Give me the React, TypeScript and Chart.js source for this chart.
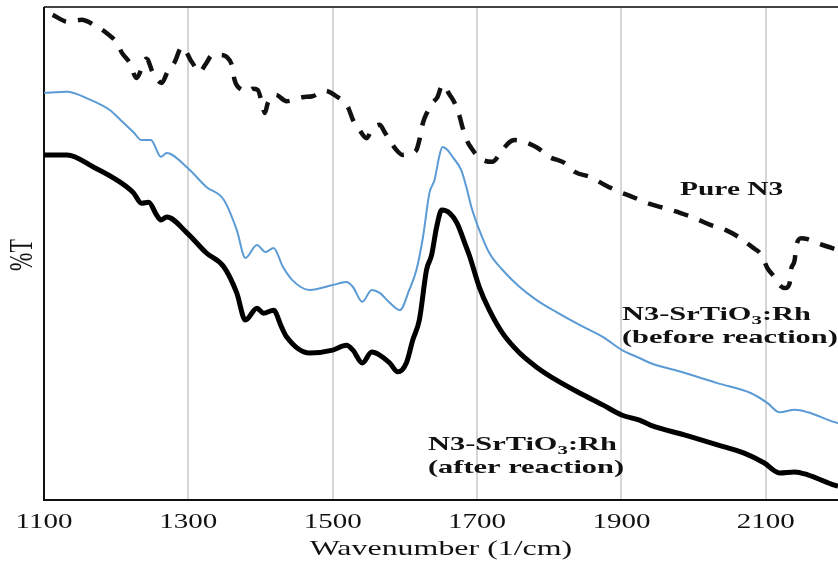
import React, { useEffect, useRef } from "react";
import { Chart, registerables } from "chart.js";

Chart.register(...registerables);

// ---- data (wavenumber in 1/cm, transmittance in arbitrary %T units) ----
const xTicks = [1100, 1300, 1500, 1700, 1900, 2100];
const xTitle = "Wavenumber (1/cm)";
const yTitle = "%T";

const pureWn = [1112, 1133, 1152, 1170, 1187, 1201, 1208, 1219, 1228, 1242, 1251, 1263, 1271, 1281, 1291, 1305, 1316, 1323, 1334, 1343, 1353, 1361, 1364, 1374, 1382, 1389, 1396, 1402, 1406, 1410, 1421, 1436, 1458, 1472, 1489, 1505, 1521, 1528, 1537, 1547, 1554, 1565, 1572, 1579, 1586, 1597, 1609, 1616, 1620, 1625, 1631, 1638, 1645, 1652, 1662, 1669, 1676, 1680, 1687, 1692, 1703, 1721, 1735, 1745, 1752, 1766, 1784, 1800, 1821, 1836, 1857, 1877, 1897, 1915, 1936, 1960, 1982, 2001, 2023, 2044, 2065, 2081, 2094, 2102, 2112, 2119, 2127, 2133, 2135, 2140, 2142, 2149, 2158, 2171, 2192, 2200];
const pureT = [98.4, 97.0, 97.4, 96.3, 94.7, 92.7, 90.7, 88.6, 85.6, 89.5, 86.6, 84.6, 86.8, 88.8, 91.9, 88.8, 86.8, 88.2, 90.3, 90.3, 89.9, 87.8, 85.2, 83.2, 82.8, 83.4, 83.2, 80.5, 78.5, 80.5, 82.2, 80.9, 81.7, 81.9, 83.0, 81.9, 79.7, 77.1, 75.1, 73.4, 75.1, 76.1, 74.6, 73.0, 71.4, 70.0, 70.4, 71.0, 73.0, 76.5, 78.7, 80.5, 81.7, 84.2, 82.2, 80.5, 77.7, 75.5, 72.6, 71.4, 69.4, 68.6, 71.0, 72.6, 73.0, 72.6, 71.4, 69.6, 68.4, 66.5, 65.5, 63.9, 62.5, 61.5, 60.2, 59.2, 58.2, 57.2, 55.8, 54.8, 53.1, 51.3, 49.7, 47.1, 45.2, 43.6, 43.0, 44.0, 46.7, 48.7, 51.3, 53.1, 52.9, 52.1, 51.1, 50.7];

const beforeWn = [1100, 1132, 1159, 1191, 1206, 1224, 1235, 1248, 1262, 1270, 1298, 1325, 1349, 1367, 1379, 1395, 1407, 1418, 1431, 1444, 1468, 1500, 1519, 1528, 1541, 1554, 1565, 1579, 1593, 1606, 1616, 1625, 1634, 1641, 1648, 1652, 1659, 1666, 1678, 1686, 1692, 1703, 1717, 1735, 1759, 1782, 1810, 1842, 1874, 1901, 1925, 1940, 1987, 2033, 2079, 2102, 2119, 2140, 2158, 2195, 2200];
const beforeT = [82.6, 82.8, 81.5, 79.1, 77.1, 74.6, 73.0, 73.0, 69.6, 70.4, 67.5, 63.5, 60.9, 54.8, 49.1, 51.7, 50.3, 51.1, 47.3, 44.6, 42.6, 43.6, 44.2, 43.2, 40.2, 42.6, 42.0, 40.0, 38.5, 42.6, 46.7, 53.3, 62.3, 64.9, 70.0, 71.6, 71.0, 69.6, 66.9, 63.0, 59.5, 54.8, 50.1, 46.7, 43.2, 40.6, 38.1, 35.5, 33.1, 30.4, 28.8, 27.8, 25.8, 23.7, 21.7, 19.7, 17.8, 18.3, 17.8, 15.8, 15.6];

const afterWn = [1100, 1132, 1169, 1201, 1224, 1235, 1245, 1256, 1262, 1270, 1298, 1325, 1349, 1367, 1379, 1395, 1404, 1418, 1429, 1436, 1468, 1500, 1519, 1528, 1541, 1554, 1565, 1579, 1590, 1602, 1611, 1620, 1630, 1637, 1644, 1651, 1662, 1672, 1685, 1690, 1703, 1717, 1735, 1759, 1782, 1810, 1842, 1874, 1901, 1925, 1940, 1987, 2033, 2070, 2098, 2119, 2140, 2158, 2195, 2200];
const afterT = [70.0, 70.0, 67.5, 64.9, 62.3, 60.2, 60.4, 57.8, 56.8, 57.4, 54.2, 50.1, 47.3, 42.0, 36.5, 38.9, 37.9, 38.5, 35.1, 33.1, 29.8, 30.4, 31.4, 30.4, 27.8, 30.0, 29.4, 27.8, 26.0, 27.8, 32.5, 36.5, 46.7, 49.7, 55.4, 58.8, 58.2, 56.2, 51.3, 49.3, 43.2, 38.5, 33.9, 29.8, 27.0, 24.3, 21.7, 19.3, 17.2, 16.2, 15.2, 13.2, 11.2, 9.5, 7.5, 5.5, 5.7, 5.1, 3.0, 2.8];

type Seg = { t: string; sub?: boolean };
const labelPure: Seg[] = [{ t: "Pure N3" }];
const labelMain: Seg[] = [{ t: "N3-SrTiO" }, { t: "3", sub: true }, { t: ":Rh" }];
const labelBefore: Seg[] = [{ t: "(before reaction)" }];
const labelAfter: Seg[] = [{ t: "(after reaction)" }];

const toPts = (xs: number[], ys: number[]) => xs.map((x, i) => ({ x, y: ys[i] }));

const FONT = '"Liberation Serif", "Times New Roman", serif';

function drawRich(
  ctx: CanvasRenderingContext2D,
  segs: Seg[],
  x: number,
  y: number,
  size: number,
  bold: boolean,
  sx: number,
  align: "left" | "center"
) {
  ctx.save();
  ctx.translate(x, y);
  ctx.scale(sx, 1);
  const fontFor = (sub?: boolean) =>
    `${bold ? "bold " : ""}${sub ? Math.round(size * 0.68) : size}px ${FONT}`;
  let total = 0;
  for (const s of segs) {
    ctx.font = fontFor(s.sub);
    total += ctx.measureText(s.t).width;
  }
  let cx = align === "center" ? -total / 2 : 0;
  ctx.textBaseline = "middle";
  ctx.textAlign = "left";
  ctx.fillStyle = "#111";
  for (const s of segs) {
    ctx.font = fontFor(s.sub);
    ctx.fillText(s.t, cx, s.sub ? size * 0.28 : 0);
    cx += ctx.measureText(s.t).width;
  }
  ctx.restore();
}

const decorPlugin = {
  id: "decor",
  beforeDatasetsDraw(chart: any) {
    const ctx: CanvasRenderingContext2D = chart.ctx;
    const a = chart.chartArea;
    ctx.save();
    ctx.strokeStyle = "#444";
    ctx.lineWidth = 2;
    ctx.beginPath();
    ctx.moveTo(a.left, a.top);
    ctx.lineTo(a.right, a.top);
    ctx.stroke();
    ctx.strokeStyle = "#111";
    ctx.beginPath();
    ctx.moveTo(a.left, a.top);
    ctx.lineTo(a.left, a.bottom);
    ctx.lineTo(a.right, a.bottom);
    ctx.stroke();
    ctx.restore();
  },
  afterDraw(chart: any) {
    const ctx: CanvasRenderingContext2D = chart.ctx;
    const xs = chart.scales.x;
    const a = chart.chartArea;
    for (const v of xTicks) {
      drawRich(ctx, [{ t: String(v) }], xs.getPixelForValue(v), a.bottom + 23, 20, false, 1.45, "center");
    }
    drawRich(ctx, [{ t: xTitle }], (a.left + a.right) / 2, a.bottom + 49, 21, false, 1.52, "center");
    // y title, rotated
    ctx.save();
    ctx.translate(23, 255);
    ctx.rotate(-Math.PI / 2);
    ctx.scale(1, 1.5);
    ctx.font = `22px ${FONT}`;
    ctx.textAlign = "center";
    ctx.textBaseline = "middle";
    ctx.fillStyle = "#111";
    ctx.fillText(yTitle, 0, 0);
    ctx.restore();
    // series labels
    drawRich(ctx, labelPure, 680, 190, 19, true, 1.55, "left");
    drawRich(ctx, labelMain, 622, 315, 19, true, 1.6, "left");
    drawRich(ctx, labelBefore, 622, 338, 19, true, 1.6, "left");
    drawRich(ctx, labelMain, 428, 445, 19, true, 1.6, "left");
    drawRich(ctx, labelAfter, 428, 468, 19, true, 1.6, "left");
  },
};

export default function App() {
  const ref = useRef<HTMLCanvasElement>(null);
  useEffect(() => {
    if (!ref.current) return;
    const chart = new Chart(ref.current, {
      type: "line",
      data: {
        datasets: [
          {
            label: "Pure N3",
            data: toPts(pureWn, pureT),
            borderColor: "#111",
            borderWidth: 4.5,
            borderDash: [15, 12],
            pointRadius: 0,
            cubicInterpolationMode: "monotone",
            fill: false,
          },
          {
            label: "N3-SrTiO3:Rh (before reaction)",
            data: toPts(beforeWn, beforeT),
            borderColor: "#5b9bd5",
            borderWidth: 2,
            pointRadius: 0,
            cubicInterpolationMode: "monotone",
            fill: false,
          },
          {
            label: "N3-SrTiO3:Rh (after reaction)",
            data: toPts(afterWn, afterT),
            borderColor: "#000",
            borderWidth: 5,
            pointRadius: 0,
            cubicInterpolationMode: "monotone",
            fill: false,
          },
        ],
      },
      options: {
        animation: false,
        responsive: false,
        layout: { padding: { left: 44, top: 7, right: 0, bottom: 64 } },
        plugins: { legend: { display: false }, tooltip: { enabled: false } },
        scales: {
          x: {
            type: "linear",
            min: 1100,
            max: 2200,
            afterBuildTicks: (scale: any) => {
              scale.ticks = xTicks.map((v) => ({ value: v }));
            },
            ticks: { display: false },
            border: { display: false },
            grid: {
              drawTicks: false,
              tickLength: 0,
              lineWidth: 2,
              color: (c: any) => (c.tick && c.tick.value === 1100 ? "rgba(0,0,0,0)" : "#d6d6d6"),
            },
          },
          y: {
            display: false,
            min: 0,
            max: 100,
          },
        },
      },
      plugins: [decorPlugin],
    });
    return () => chart.destroy();
  }, []);
  return (
    <div style={{ position: "absolute", left: 0, top: 0, width: 838, height: 564, background: "#fff" }}>
      <canvas ref={ref} width={838} height={564} style={{ display: "block" }} />
    </div>
  );
}
